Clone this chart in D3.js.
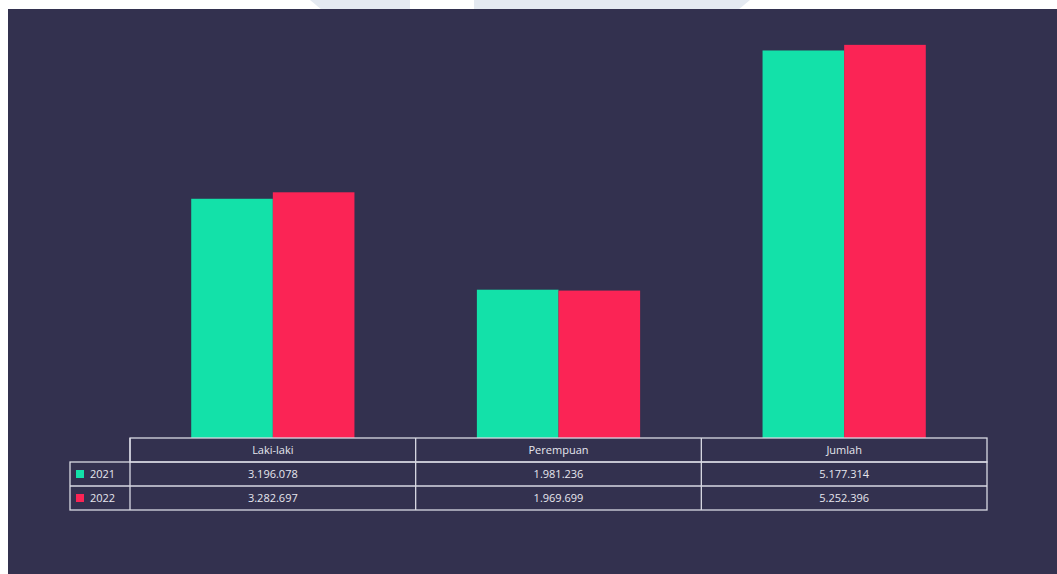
<!DOCTYPE html>
<html>
<head>
<meta charset="utf-8">
<script src="https://cdn.jsdelivr.net/npm/d3@7"></script>
<style>
  body { margin: 0; background: #ffffff; }
  svg { display: block; }
</style>
</head>
<body>
<div id="chart"></div>
<script>
var categories = ["Laki-laki", "Perempuan", "Jumlah"];
var years = ["2021", "2022"];
var values2021 = [3196078, 1981236, 5177314];
var values2022 = [3282697, 1969699, 5252396];
var colors = ["#13e1a9", "#fb2455"];

var width = 1057,
  height = 574,
  bg = "#33314f",
  lineColor = "#d9d9e3",
  textColor = "#e6e6ee";

var svg = d3.select("#chart").append("svg")
  .attr("width", width)
  .attr("height", height);

// faint header shape above the panel
svg.append("path")
  .attr("d", "M310,0 L750,0 L738,10 L322,10 Z")
  .attr("fill", "#e4e9f1");
svg.append("rect")
  .attr("x", 410).attr("y", 0).attr("width", 64).attr("height", 10)
  .attr("fill", "#ffffff");

// dark panel
svg.append("rect")
  .attr("x", 8).attr("y", 9)
  .attr("width", width - 8).attr("height", height - 9)
  .attr("fill", bg);

var series = [values2021, values2022];
var data = categories.map(function(c, i) {
  return { cat: c, vals: series.map(function(s) { return s[i]; }) };
});

var tableLeft = 130, tableRight = 987, baseY = 438;

var x0 = d3.scaleBand().domain(categories).range([tableLeft, tableRight]).padding(0);
var x1 = d3.scaleBand().domain(years).range([0, x0.bandwidth()]).paddingInner(0).paddingOuter(0.75);
var y = d3.scaleLinear().domain([0, 5500000]).range([baseY, baseY - 5.5 * 74.85]);

var groups = svg.selectAll(".grp").data(data).enter().append("g")
  .attr("class", "grp")
  .attr("transform", function(d) { return "translate(" + x0(d.cat) + ",0)"; });

groups.selectAll("rect")
  .data(function(d) { return d.vals.map(function(v, j) { return { year: years[j], v: v, j: j }; }); })
  .enter().append("rect")
  .attr("x", function(d) { return x1(d.year); })
  .attr("y", function(d) { return y(d.v); })
  .attr("width", x1.bandwidth())
  .attr("height", function(d) { return baseY - y(d.v); })
  .attr("fill", function(d) { return colors[d.j]; });

// data table
var rowH = 24, legendLeft = 70;
var fmt = function(v) { return d3.format(",")(v).replace(/,/g, "."); };
var tbl = svg.append("g")
  .attr("fill", "none")
  .attr("stroke", lineColor)
  .attr("stroke-width", 1.3);

// header row
tbl.append("rect").attr("x", tableLeft).attr("y", baseY)
  .attr("width", tableRight - tableLeft).attr("height", rowH);
// value rows, including legend column
tbl.append("rect").attr("x", legendLeft).attr("y", baseY + rowH)
  .attr("width", tableRight - legendLeft).attr("height", rowH * 2);
tbl.append("line").attr("x1", legendLeft).attr("x2", tableRight)
  .attr("y1", baseY + rowH * 2).attr("y2", baseY + rowH * 2);
[tableLeft].concat(categories.slice(1).map(function(c) { return x0(c); })).forEach(function(xx) {
  tbl.append("line").attr("x1", xx).attr("x2", xx)
    .attr("y1", baseY).attr("y2", baseY + rowH * 3);
});

var txt = svg.append("g")
  .attr("font-family", "'Open Sans', 'Noto Sans', sans-serif")
  .attr("font-size", 11)
  .attr("fill", textColor);

categories.forEach(function(c, i) {
  var cx = x0(c) + x0.bandwidth() / 2;
  txt.append("text").attr("x", cx).attr("y", baseY + rowH / 2 + 4)
    .attr("text-anchor", "middle").text(c);
  series.forEach(function(s, j) {
    txt.append("text").attr("x", cx).attr("y", baseY + rowH * (j + 1) + rowH / 2 + 4)
      .attr("text-anchor", "middle").text(fmt(s[i]));
  });
});

years.forEach(function(yr, j) {
  var ry = baseY + rowH * (j + 1);
  svg.append("rect").attr("x", 76).attr("y", ry + 8)
    .attr("width", 8).attr("height", 8).attr("fill", colors[j]);
  txt.append("text").attr("x", 90).attr("y", ry + rowH / 2 + 4).text(yr);
});
</script>
</body>
</html>
